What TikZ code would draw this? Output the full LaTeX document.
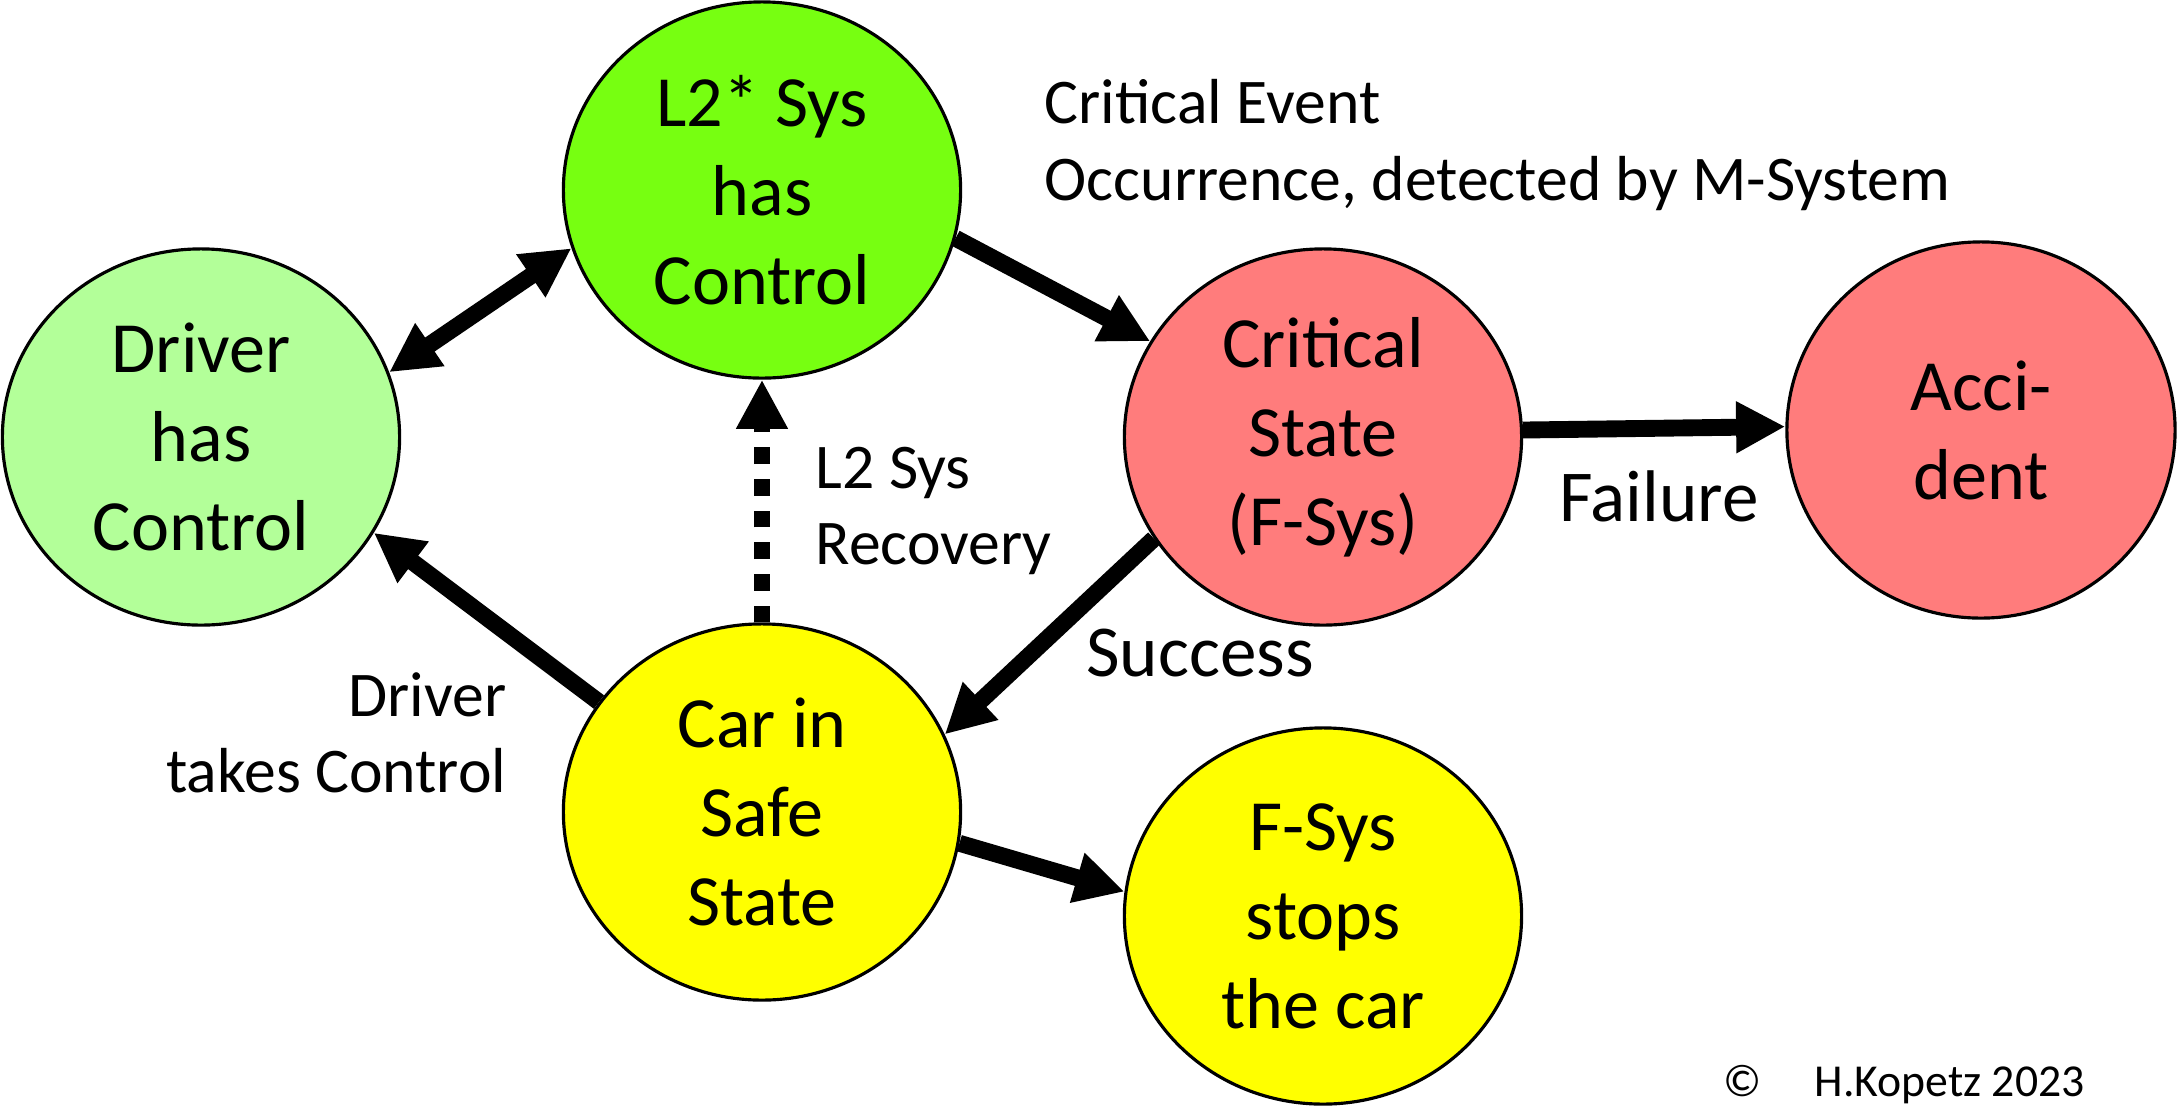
\documentclass[tikz,border=0pt]{standalone}
\usepackage{fontspec}
\setmainfont{Carlito}
\usetikzlibrary{shapes.geometric,arrows.meta}

\definecolor{drivergreen}{HTML}{B3FF99}
\definecolor{sysgreen}{HTML}{77FF11}
\definecolor{critred}{HTML}{FF7C7C}
\definecolor{safeyellow}{HTML}{FFFF00}

\tikzset{
  statebox/.style={ellipse, draw=black, line width=0.9pt, inner sep=0pt,
    minimum width=3.97cm, minimum height=3.76cm, align=center,
    font=\fontsize{20.5}{25.3}\selectfont},
  flow/.style={line width=4.8pt, -{Triangle[length=14pt,width=13.8pt]}},
  bothflow/.style={line width=4.8pt, {Triangle[length=14pt,width=13.8pt]}-{Triangle[length=14pt,width=13.8pt]}},
  dotflow/.style={flow, dash pattern=on 4.75pt off 4.25pt},
  smalllabel/.style={inner sep=0pt, font=\fontsize{18.1}{21.7}\selectfont},
  biglabel/.style={inner sep=0pt, font=\fontsize{20.8}{25.3}\selectfont},
}

\begin{document}
\begin{tikzpicture}[x=0.01cm,y=0.01cm]
\useasboundingbox (0,0) rectangle (2177,-1105);

% states
\node[statebox, fill=drivergreen] (driver) at (201,-437) {Driver\\has\\Control};
\node[statebox, fill=sysgreen]    (ltwo)   at (762,-190) {L2* Sys\\has\\Control};
\node[statebox, fill=critred]     (crit)   at (1323,-437) {Critical\\State\\(F-Sys)};
\node[statebox, fill=critred, minimum width=3.88cm] (acc) at (1981,-430) {Acci-\\dent};
\node[statebox, fill=safeyellow]  (safe)   at (762,-812) {Car in\\Safe\\State};
\node[statebox, fill=safeyellow]  (stop)   at (1323,-916) {F-Sys\\stops\\the car};

% transitions
\draw[bothflow] (driver.19.2) -- (ltwo.197.5);
\draw[flow] (ltwo.-14.3) -- (crit.151.1);
\draw[flow] (crit.211.5) -- (safe.23.8);
\draw[flow] (safe.146.1) -- (driver.-29.4);
\draw[flow] (safe.-9.2) -- (stop.173.3);
\draw[flow] (crit.2.8) -- (acc.179.2);
\draw[dotflow] (safe.north) -- (ltwo.south);

% labels
\node[smalllabel, anchor=west, align=left] (evt) at (1044,-145)
  {Critical Event\\Occurrence, detected by M-System};
\node[smalllabel, anchor=west, align=left] (rec) at (815,-511)
  {L2 Sys\\Recovery};
\node[smalllabel, anchor=east, align=right] (take) at (507,-733)
  {Driver\\takes Control};
\node[biglabel] (succ) at (1200,-653) {Success};
\node[biglabel] (fail) at (1659,-496) {Failure};
\node[inner sep=0pt, anchor=west, font=\fontsize{13}{15}\selectfont] (copy) at (1723,-1085)
  {©\hspace{15pt}H.Kopetz 2023};
\end{tikzpicture}
\end{document}
